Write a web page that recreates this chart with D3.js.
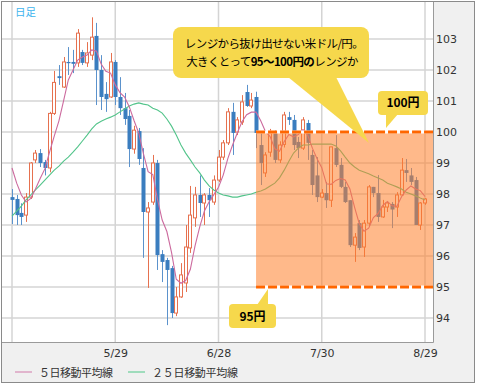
<!DOCTYPE html>
<html lang="ja">
<head>
<meta charset="utf-8">
<script src="https://cdn.jsdelivr.net/npm/d3@7"></script>
<style>
  body { margin: 0; background: #fff; }
  svg { display: block; font-family: "DejaVu Sans", sans-serif; }
  .jp { font-family: "Noto Sans CJK JP", sans-serif; }
</style>
</head>
<body>
<svg id="chart" width="477" height="385"></svg>
<script>
// 米ドル/円 日足 (trading days)
const dates = ["4/29","4/30",
  "5/1","5/2","5/3","5/6","5/7","5/8","5/9","5/10","5/13","5/14","5/15","5/16","5/17",
  "5/20","5/21","5/22","5/23","5/24","5/27","5/28","5/29","5/30","5/31",
  "6/3","6/4","6/5","6/6","6/7","6/10","6/11","6/12","6/13","6/14","6/17","6/18","6/19",
  "6/20","6/21","6/24","6/25","6/26","6/27","6/28",
  "7/1","7/2","7/3","7/4","7/5","7/8","7/9","7/10","7/11","7/12","7/15","7/16","7/17",
  "7/18","7/19","7/22","7/23","7/24","7/25","7/26","7/29","7/30","7/31",
  "8/1","8/2","8/5","8/6","8/7","8/8","8/9","8/12","8/13","8/14","8/15","8/16","8/19",
  "8/20","8/21","8/22","8/23","8/26","8/27","8/28","8/29"];

const open = [97.90,97.84,97.39,97.32,97.90,99.10,99.32,99.03,98.84,100.60,
  101.80,101.45,102.26,102.26,102.23,102.58,102.23,102.48,103.10,102.00,
  101.23,101.13,102.26,101.13,100.77,100.52,99.45,100.03,98.84,97.42,
  97.74,99.00,96.06,95.87,95.61,94.16,94.68,95.13,96.26,97.23,
  97.97,97.71,97.97,97.74,98.45,99.19,99.65,100.65,100.00,100.32,
  101.29,100.84,101.13,99.58,98.68,99.35,99.97,99.10,99.60,100.48,
  100.39,99.68,99.48,100.29,99.26,98.60,97.90,98.03,97.80,99.48,
  98.94,98.23,97.80,96.35,97.06,96.29,97.06,98.23,98.03,97.26,
  97.58,97.68,97.58,97.97,98.77,98.60,98.45,97.00,97.71];
const high = [98.16,97.97,97.70,98.03,99.03,99.42,99.45,99.10,100.65,101.97,
  102.16,102.42,102.74,102.65,103.32,102.65,102.90,103.70,103.52,102.48,
  101.61,102.55,102.32,101.77,101.26,100.71,100.20,100.13,99.48,97.74,
  99.26,99.10,96.19,95.94,95.68,95.00,95.77,97.00,98.26,98.23,
  98.60,98.03,98.19,98.60,99.42,99.74,100.77,100.94,100.48,101.19,
  101.52,101.26,101.30,99.97,99.35,100.10,100.06,99.70,100.65,100.65,
  100.55,99.84,100.48,100.39,99.42,99.19,98.16,98.39,99.52,99.90,
  99.16,98.39,97.80,96.74,97.16,97.16,98.29,98.23,98.61,97.81,
  97.74,97.74,98.06,99.16,99.13,98.84,98.55,97.74,97.87];
const low = [97.03,97.00,97.00,97.10,97.84,99.00,98.87,98.60,98.70,100.55,
  101.52,101.42,101.84,101.90,102.10,102.16,102.10,102.32,100.87,100.71,
  100.65,101.10,100.87,100.55,100.23,98.87,99.30,98.94,95.94,94.97,
  97.65,95.55,95.16,93.77,94.00,94.06,94.65,94.84,96.10,96.94,
  97.26,97.00,97.26,97.65,98.39,99.10,99.58,99.26,99.90,100.23,
  100.81,100.77,99.48,98.29,98.55,99.20,99.00,99.00,99.50,100.23,
  99.42,99.16,99.42,99.10,97.97,97.74,97.87,97.55,97.58,98.87,
  98.19,97.71,96.29,95.81,96.19,95.97,96.97,97.90,97.10,97.23,
  97.42,96.90,97.26,97.94,98.39,98.29,97.00,96.84,97.65];
const close = [97.81,97.32,97.26,97.90,99.00,99.32,99.00,98.84,100.60,101.60,
  101.74,102.26,102.22,102.20,103.19,102.23,102.55,103.06,102.00,101.13,
  101.06,102.26,101.13,100.77,100.42,99.45,100.06,99.13,97.42,97.55,
  99.00,96.03,95.81,95.55,94.16,94.68,95.39,96.29,97.32,97.97,
  97.71,97.97,97.80,98.45,99.19,99.65,100.65,99.97,100.39,100.97,
  100.84,101.03,99.97,99.00,99.26,99.97,99.10,99.58,100.55,100.39,
  99.58,99.48,100.39,99.65,98.29,97.90,98.03,97.80,99.52,98.94,
  98.23,97.74,96.35,96.61,96.26,97.06,98.23,98.03,97.26,97.58,
  97.71,97.50,97.97,98.77,98.68,98.39,97.00,97.71,97.84];

// moving averages
const ma5 = [98.84,98.35,97.97,97.74,97.86,98.16,98.50,98.81,99.35,99.87,
  100.36,101.01,101.68,102.00,102.32,102.42,102.48,102.65,102.61,102.19,
  101.96,101.90,101.52,101.27,101.13,100.81,100.37,99.97,99.30,98.72,
  98.63,97.83,97.16,96.79,96.11,95.25,95.12,95.21,95.57,96.33,
  96.94,97.45,97.75,97.98,98.22,98.61,99.15,99.58,99.97,100.33,
  100.56,100.64,100.64,100.36,100.02,99.85,99.46,99.38,99.69,99.92,
  99.84,99.92,100.08,99.90,99.48,99.14,98.85,98.33,98.31,98.44,
  98.50,98.45,98.16,97.57,97.04,96.80,96.90,97.24,97.37,97.63,
  97.76,97.62,97.60,97.91,98.13,98.26,98.16,98.11,97.92];
const ma25 = [97.29,97.45,97.61,97.81,97.97,98.13,98.29,98.45,98.61,98.77,
  98.90,99.06,99.19,99.35,99.52,99.71,99.90,100.10,100.26,100.35,
  100.42,100.48,100.55,100.65,100.74,100.84,100.90,100.94,100.90,100.87,
  100.77,100.71,100.61,100.42,100.19,99.90,99.58,99.32,99.10,98.87,
  98.68,98.45,98.26,98.13,98.03,97.97,97.94,97.90,97.90,97.94,
  97.97,98.00,98.06,98.10,98.16,98.26,98.35,98.52,98.77,99.06,
  99.32,99.48,99.58,99.58,99.61,99.61,99.61,99.61,99.61,99.55,
  99.39,99.19,99.00,98.87,98.77,98.71,98.65,98.58,98.52,98.45,
  98.35,98.29,98.23,98.16,98.06,98.00,97.94,97.87,97.81];

const yTicks = [94, 95, 96, 97, 98, 99, 100, 101, 102, 103];
const gridDates = ["4/29", "5/29", "6/28", "7/30", "8/29"];
const labelDates = ["5/29", "6/28", "7/30", "8/29"];
const rangeLow = 95, rangeHigh = 100, rangeFrom = "7/10";

const svg = d3.select("#chart");
const L = 2, T = 2, R = 433, B = 342;

const x = d3.scalePoint().domain(dates).range([12, 425]);
const y = d3.scaleLinear().domain([93.226, 104.194]).range([B, T]);

// frame
svg.append("rect").attr("x", 1.5).attr("y", 1.5).attr("width", 473).attr("height", 381)
  .attr("fill", "#f0f0f0").attr("stroke", "#8a8a8a");
svg.append("rect").attr("x", L).attr("y", T).attr("width", R - L).attr("height", B - T)
  .attr("fill", "#fff");

svg.append("clipPath").attr("id", "clip").append("rect")
  .attr("x", L).attr("y", T).attr("width", R - L).attr("height", B - T);
const g = svg.append("g").attr("clip-path", "url(#clip)");

// grid
g.selectAll(".hg").data(yTicks).enter().append("line")
  .attr("x1", L).attr("x2", R).attr("y1", d => y(d)).attr("y2", d => y(d))
  .attr("stroke", "#d4d4d4").attr("stroke-width", 1.5);
g.selectAll(".vg").data(gridDates).enter().append("line")
  .attr("x1", d => x(d)).attr("x2", d => x(d)).attr("y1", T).attr("y2", B)
  .attr("stroke", "#d4d4d4").attr("stroke-width", 1.5);

// candles
const candles = dates.map((d, i) => ({ d, o: open[i], h: high[i], l: low[i], c: close[i] }));
const cg = g.selectAll(".candle").data(candles).enter().append("g");
cg.append("line")
  .attr("x1", d => Math.round(x(d.d)) + 0.5).attr("x2", d => Math.round(x(d.d)) + 0.5)
  .attr("y1", d => y(d.h)).attr("y2", d => y(d.l))
  .attr("stroke", d => d.c >= d.o ? "#e6714f" : "#5b92cc");
cg.append("rect")
  .attr("x", d => Math.round(x(d.d)) - 1.5)
  .attr("width", d => d.c >= d.o ? 3 : 4)
  .attr("y", d => y(Math.max(d.o, d.c)))
  .attr("height", d => Math.max(1, Math.abs(y(d.o) - y(d.c))))
  .attr("fill", d => d.c >= d.o ? "#fff" : "#3a7dbf")
  .attr("stroke", d => d.c >= d.o ? "#e6714f" : "none");

// moving averages
const line = d3.line().x((v, i) => x(dates[i])).y(v => y(v));
g.append("path").datum(ma25).attr("d", line)
  .attr("fill", "none").attr("stroke", "#52c48a").attr("stroke-width", 1.1);
g.append("path").datum(ma5).attr("d", line)
  .attr("fill", "none").attr("stroke", "#cc6a9e").attr("stroke-width", 1.1);

// range box
const bx = x(rangeFrom);
g.append("rect").attr("x", bx).attr("y", y(rangeHigh))
  .attr("width", R - bx).attr("height", y(rangeLow) - y(rangeHigh))
  .attr("fill", "#ff7f2a").attr("opacity", 0.55);
[rangeHigh, rangeLow].forEach(v => {
  g.append("line").attr("x1", bx).attr("x2", R).attr("y1", y(v)).attr("y2", y(v))
    .attr("stroke", "#fff").attr("stroke-width", 3);
  g.append("line").attr("x1", bx).attr("x2", R).attr("y1", y(v)).attr("y2", y(v))
    .attr("stroke", "#ff6600").attr("stroke-width", 3).attr("stroke-dasharray", "9,3");
});

// borders
svg.append("path").attr("d", `M${R + 0.5},${T} V${B + 0.5} H${L}`)
  .attr("fill", "none").attr("stroke", "#9a9a9a");

// axes
const yAxis = svg.append("g").attr("transform", `translate(${R},0)`)
  .call(d3.axisRight(y).tickValues(yTicks).tickSize(0).tickPadding(3));
const xAxis = svg.append("g").attr("transform", `translate(0,${B})`)
  .call(d3.axisBottom(x).tickValues(labelDates).tickSize(0).tickPadding(7));
[yAxis, xAxis].forEach(a => {
  a.select(".domain").remove();
  a.selectAll("text").attr("font-size", 11).attr("fill", "#333")
    .attr("font-family", "DejaVu Sans, sans-serif");
});

// title
svg.append("text").attr("class", "jp").attr("x", 15).attr("y", 15.5)
  .attr("font-size", 10.5).attr("fill", "#3db4ee").text("日足");

// legend
const legend = [
  { label: "５日移動平均線", color: "#dca2c2", x: 15, len: 74 },
  { label: "２５日移動平均線", color: "#84d6ab", x: 128, len: 86 }
];
legend.forEach(d => {
  svg.append("line").attr("x1", d.x).attr("x2", d.x + 17).attr("y1", 372).attr("y2", 372)
    .attr("stroke", d.color).attr("stroke-width", 1.5);
  svg.append("text").attr("class", "jp").attr("x", d.x + 24).attr("y", 376.5)
    .attr("font-size", 11).attr("fill", "#333")
    .attr("textLength", d.len).attr("lengthAdjust", "spacing").text(d.label);
});

// callouts
const yellow = "#f6d84c";
const note = svg.append("g");
note.append("rect").attr("x", 173).attr("y", 27).attr("width", 196).attr("height", 51)
  .attr("rx", 8).attr("fill", yellow);
note.append("path").attr("d", "M288,77 L369,143 L336,77 Z").attr("fill", yellow);
note.append("text").attr("class", "jp").attr("x", 274).attr("y", 47.5)
  .attr("text-anchor", "middle").attr("font-size", 11.5).attr("letter-spacing", -0.6)
  .text("レンジから抜け出せない米ドル/円。");
const t2 = note.append("text").attr("class", "jp").attr("x", 272).attr("y", 65.5)
  .attr("text-anchor", "middle").attr("font-size", 11.5).attr("letter-spacing", -0.6);
t2.append("tspan").text("大きくとって");
t2.append("tspan").attr("font-weight", "bold").text("95～100円の");
t2.append("tspan").text("レンジか");

note.append("rect").attr("x", 378).attr("y", 91).attr("width", 50).attr("height", 24)
  .attr("rx", 4).attr("fill", yellow);
note.append("path").attr("d", "M386,114 L386,128 L398,114 Z").attr("fill", yellow);
note.append("text").attr("class", "jp").attr("x", 403).attr("y", 107)
  .attr("text-anchor", "middle").attr("font-size", 12).attr("font-weight", "bold")
  .text(rangeHigh + "円");

note.append("rect").attr("x", 229).attr("y", 304).attr("width", 47).attr("height", 24)
  .attr("rx", 4).attr("fill", yellow);
note.append("path").attr("d", "M257,305 L268,289 L268,305 Z").attr("fill", yellow);
note.append("text").attr("class", "jp").attr("x", 252.5).attr("y", 321)
  .attr("text-anchor", "middle").attr("font-size", 12).attr("font-weight", "bold")
  .text(rangeLow + "円");
</script>
</body>
</html>
